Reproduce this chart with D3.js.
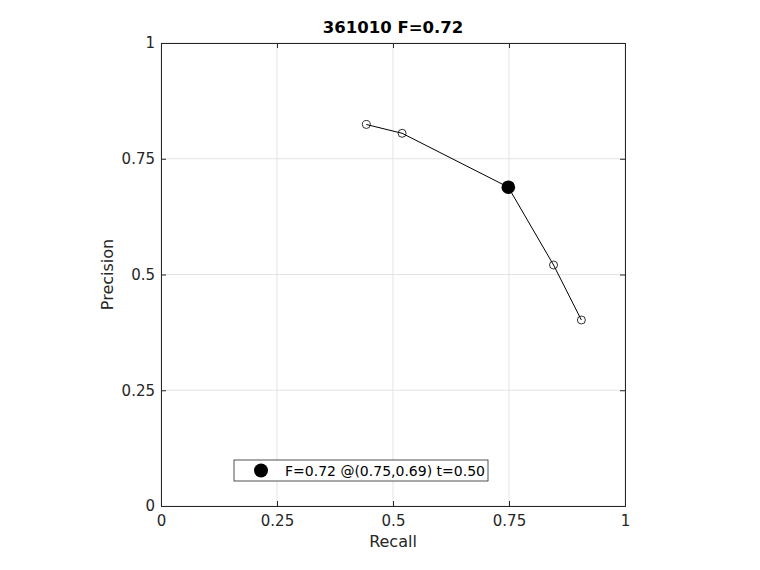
<!DOCTYPE html>
<html>
<head>
<meta charset="utf-8">
<script src="https://cdn.jsdelivr.net/npm/d3@7"></script>
<style>
  body { margin: 0; background: #fff; }
  text { font-family: "DejaVu Sans", sans-serif; }
</style>
</head>
<body>
<svg width="760" height="570"></svg>
<script>
const recall = [0.4425, 0.5196, 0.7485, 0.846, 0.906];
const precision = [0.824, 0.805, 0.6886, 0.5205, 0.4017];
const bestIndex = 2;
const tickValues = [0, 0.25, 0.5, 0.75, 1];
const tickLabels = ["0", "0.25", "0.5", "0.75", "1"];
const chartTitle = "361010 F=0.72";
const legendLabel = "F=0.72 @(0.75,0.69) t=0.50";

const svg = d3.select("svg");
const plotLeft = 161, plotRight = 625, plotTop = 43, plotBottom = 506;

const xScale = d3.scaleLinear().domain([0, 1]).range([plotLeft, plotRight]);
const yScale = d3.scaleLinear().domain([0, 1]).range([plotBottom, plotTop]);

/* grid */
const grid = svg.append("g");
tickValues.forEach(t => {
  grid.append("line")
    .attr("x1", xScale(t)).attr("x2", xScale(t))
    .attr("y1", plotTop).attr("y2", plotBottom)
    .attr("stroke", "#e3e3e3");
  grid.append("line")
    .attr("x1", plotLeft).attr("x2", plotRight)
    .attr("y1", yScale(t)).attr("y2", yScale(t))
    .attr("stroke", "#e3e3e3");
});

/* axes */
const fmt = (d, i) => tickLabels[i];
const xAxis = d3.axisBottom(xScale).tickValues(tickValues).tickFormat(fmt).tickSize(-5).tickPadding(9);
const yAxis = d3.axisLeft(yScale).tickValues(tickValues).tickFormat(fmt).tickSize(-5).tickPadding(6);

function styleAxis(g) {
  g.select(".domain").attr("stroke", "#262626");
  g.selectAll(".tick line").attr("stroke", "#262626");
  g.selectAll(".tick text").attr("fill", "#262626").style("font-size", "15px")
    .style("font-family", "DejaVu Sans, sans-serif");
}

svg.append("g").attr("transform", `translate(0,${plotBottom})`).call(xAxis).call(styleAxis);
svg.append("g").attr("transform", `translate(${plotLeft},0)`).call(yAxis).call(styleAxis);

/* top and right box */
svg.append("g").attr("transform", `translate(0,${plotTop})`)
  .call(d3.axisTop(xScale).tickValues(tickValues).tickFormat("").tickSize(-5))
  .call(styleAxis);
svg.append("g").attr("transform", `translate(${plotRight},0)`)
  .call(d3.axisRight(yScale).tickValues(tickValues).tickFormat("").tickSize(-5))
  .call(styleAxis);

/* labels */
svg.append("text")
  .attr("x", (plotLeft + plotRight) / 2).attr("y", 33)
  .attr("text-anchor", "middle")
  .style("font-size", "16.5px").style("font-weight", "bold")
  .attr("fill", "#000")
  .text(chartTitle);

svg.append("text")
  .attr("x", (plotLeft + plotRight) / 2).attr("y", 547)
  .attr("text-anchor", "middle")
  .style("font-size", "16px").attr("fill", "#262626")
  .text("Recall");

svg.append("text")
  .attr("transform", `translate(113,${(plotTop + plotBottom) / 2}) rotate(-90)`)
  .attr("text-anchor", "middle")
  .style("font-size", "16px").attr("fill", "#262626")
  .text("Precision");

/* line + markers */
const lineData = recall.map((r, i) => ({ r: r, p: precision[i] }));
const lineGenerator = d3.line().x(d => xScale(d.r)).y(d => yScale(d.p));

svg.append("path")
  .attr("d", lineGenerator(lineData))
  .attr("fill", "none")
  .attr("stroke", "#000")
  .attr("stroke-width", 1);

svg.selectAll("circle.pt")
  .data(lineData.filter((d, i) => i !== bestIndex))
  .enter().append("circle")
  .attr("class", "pt")
  .attr("cx", d => xScale(d.r))
  .attr("cy", d => yScale(d.p))
  .attr("r", 4)
  .attr("fill", "none")
  .attr("stroke", "#000")
  .attr("stroke-width", 0.8);

svg.append("circle")
  .attr("cx", xScale(recall[bestIndex]))
  .attr("cy", yScale(precision[bestIndex]))
  .attr("r", 6.8)
  .attr("fill", "#000");

/* legend */
const legend = svg.append("g");
legend.append("rect")
  .attr("x", 234).attr("y", 460)
  .attr("width", 254).attr("height", 21)
  .attr("fill", "#fff")
  .attr("stroke", "#262626")
  .attr("stroke-width", 0.8);
legend.append("circle")
  .attr("cx", 261).attr("cy", 470.5).attr("r", 7).attr("fill", "#000");
legend.append("text")
  .attr("x", 285).attr("y", 475.5)
  .style("font-size", "14px").attr("fill", "#000")
  .text(legendLabel);
</script>
</body>
</html>
